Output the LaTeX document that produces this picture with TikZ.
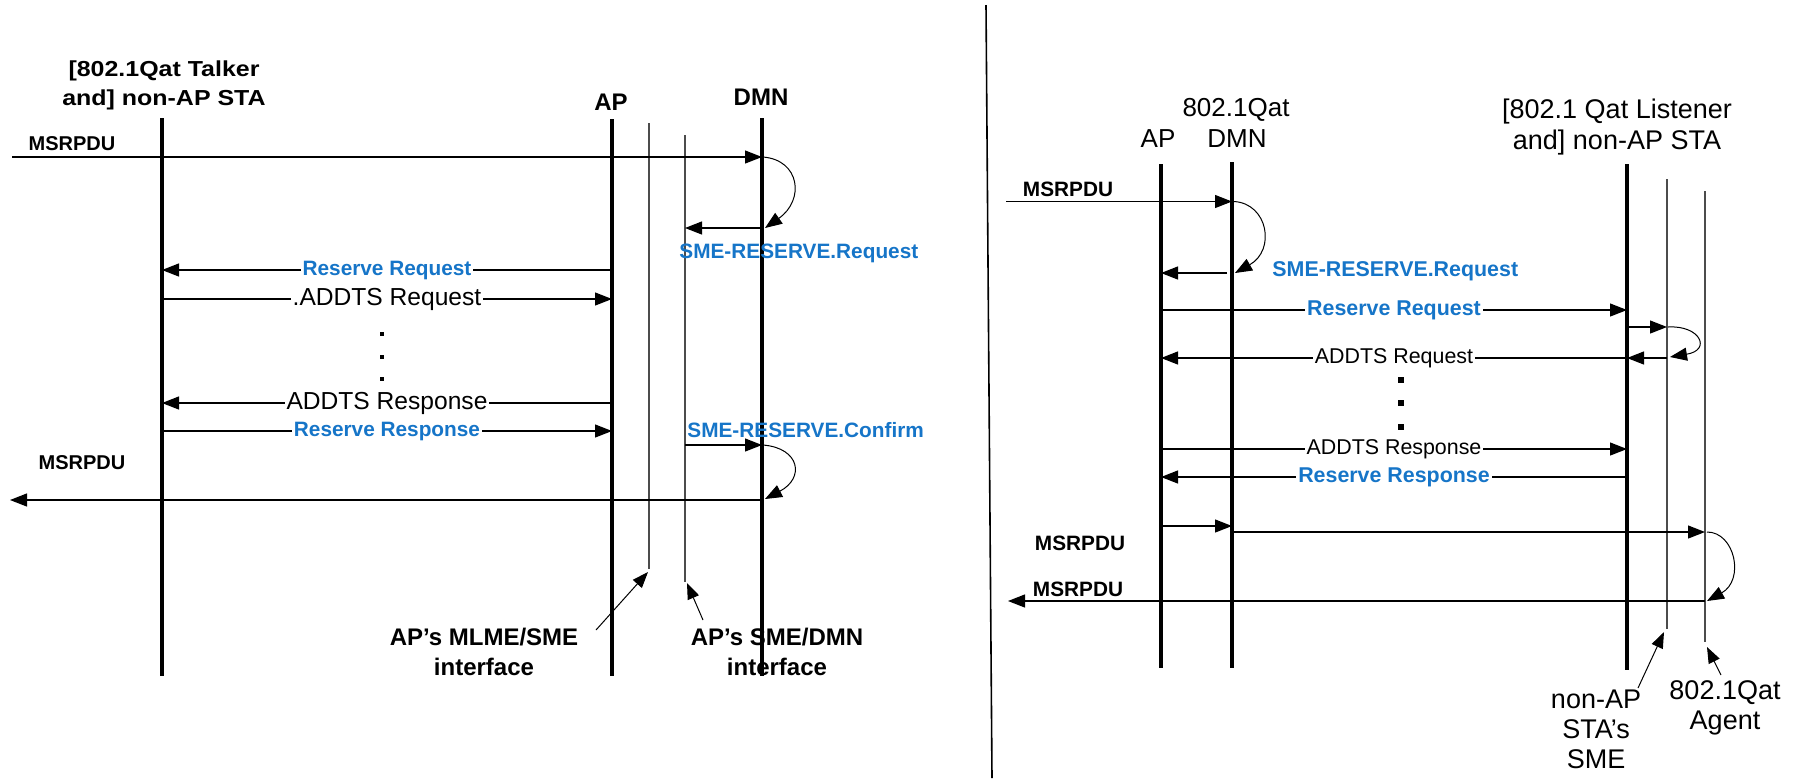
\documentclass[tikz,border=0pt]{standalone}
\usepackage{fontspec}
\setmainfont{Liberation Sans}
\newfontfamily\widesans[FakeStretch=1.15]{Liberation Sans}
\usetikzlibrary{arrows.meta,calc}
\definecolor{lblue}{RGB}{22,117,200}
\begin{document}
\begin{tikzpicture}[x=0.5pt,y=-0.5pt]
\tikzset{
 life/.style={line width=2pt},
 iface/.style={line width=0.65pt, black!70},
 conn/.style={line width=0.6pt},
 msg/.style={conn, -{Triangle[length=8.5pt,width=6.5pt]}},
 ptr/.style={line width=0.5pt, -{Triangle[length=8pt,width=6pt]}},
 curv/.style={line width=0.5pt, -{Triangle[length=8.5pt,width=6.5pt]}},
 tl/.style={font=\widesans\fontsize{10.85}{14.5}\selectfont\bfseries, align=center, inner sep=0pt},
 hb/.style={font=\fontsize{12}{14}\selectfont\bfseries, inner sep=0pt},
 bt/.style={font=\fontsize{12}{15}\selectfont\bfseries, align=center, inner sep=0pt},
 ms/.style={font=\fontsize{10}{12}\selectfont\bfseries, inner sep=0pt},
 bl/.style={font=\fontsize{10.4}{12}\selectfont\bfseries, text=lblue, inner sep=0pt},
 bll/.style={bl, fill=white, inner xsep=1pt, inner ysep=0pt},
 rl/.style={font=\fontsize{12.3}{14}\selectfont, fill=white, inner xsep=1pt, inner ysep=0pt},
 dot/.style={rectangle, fill=black, inner sep=0pt, minimum size=2.4pt},
 rt/.style={font=\fontsize{13.5}{15.5}\selectfont, align=center, inner sep=0pt},
 rh/.style={font=\fontsize{13}{15}\selectfont, inner sep=0pt},
 rms/.style={font=\fontsize{10.4}{12}\selectfont\bfseries, inner sep=0pt},
 rbl/.style={font=\fontsize{10.7}{12}\selectfont\bfseries, text=lblue, inner sep=0pt},
 rbll/.style={rbl, fill=white, inner xsep=1pt, inner ysep=0pt},
 rrl/.style={font=\fontsize{10.7}{12}\selectfont, fill=white, inner xsep=1pt, inner ysep=0pt},
 rdot/.style={rectangle, fill=black, inner sep=0pt, minimum size=2.8pt},
 rbt/.style={font=\fontsize{13.5}{15}\selectfont, align=center, inner sep=0pt},
}
\useasboundingbox (0,0) rectangle (1794,778);

% ================= LEFT DIAGRAM =================
\coordinate (staLt) at (162,118); \coordinate (staLb) at (162,676);
\coordinate (apLt) at (612,119);  \coordinate (apLb) at (612,676);
\coordinate (dmnLt) at (762,118); \coordinate (dmnLb) at (762,676);
\coordinate (if1t) at (649,123);  \coordinate (if1b) at (649,569);
\coordinate (if2t) at (685,135);  \coordinate (if2b) at (685,582);

\draw[life] (staLt) -- (staLb);
\draw[life] (apLt) -- (apLb);
\draw[life] (dmnLt) -- (dmnLb);
\draw[iface] (if1t) -- (if1b);
\draw[iface] (if2t) -- (if2b);

\node[tl] (staLh) at (164,85.5) {[802.1Qat Talker\\and] non-AP STA};
\node[hb] (apLh) at (611,102) {AP};
\node[hb] (dmnLh) at (761,97) {DMN};

% MSRPDU in
\coordinate (inL) at (12,157);
\draw[msg] (inL) -- (dmnLt |- inL);
\node[ms] (msL1) at (72,144) {MSRPDU};
\coordinate (c1s) at (763,157); \coordinate (c1e) at (765,228);
\draw[curv] (c1s) .. controls +(37,3) and +(40,-28) .. (c1e);
% SME-RESERVE.Request
\draw[msg] (dmnLt |- c1e) -- (if2t |- c1e);
\node[bl, anchor=west] (smeReqL) at (679,253) {SME-RESERVE.Request};
% Reserve Request
\coordinate (yL1) at (0,270);
\draw[msg] (apLt |- yL1) -- node[bll] (rrL) {Reserve Request} (staLt |- yL1);
% ADDTS Request
\coordinate (yL2) at (0,299);
\draw[msg] (staLt |- yL2) -- node[rl] (arqL) {.ADDTS Request} (apLt |- yL2);
% dots
\node[dot] (dL1) at (382,334) {};
\node[dot] (dL2) at (382,357) {};
\node[dot] (dL3) at (382,379) {};
% ADDTS Response
\coordinate (yL3) at (0,403);
\draw[msg] (apLt |- yL3) -- node[rl] (arsL) {ADDTS Response} (staLt |- yL3);
% Reserve Response
\coordinate (yL4) at (0,431);
\draw[msg] (staLt |- yL4) -- node[bll] (rsL) {Reserve Response} (apLt |- yL4);
% SME-RESERVE.Confirm
\node[bl, anchor=west] (smeConL) at (687,430) {SME-RESERVE.Confirm};
\coordinate (yL5) at (0,445);
\draw[msg] (if2t |- yL5) -- (dmnLt |- yL5);
\coordinate (c2s) at (763,445); \coordinate (c2e) at (765,499);
\draw[curv] (c2s) .. controls +(37,3) and +(40,-21) .. (c2e);
% MSRPDU out
\coordinate (outL) at (10,500);
\draw[msg] (dmnLt |- outL) -- (outL);
\node[ms] (msL2) at (82,463) {MSRPDU};
% bottom labels
\node[bt] (mlmeLab) at (484,652) {AP’s MLME/SME\\interface};
\node[bt] (smedmnLab) at (777,652) {AP’s SME/DMN\\interface};
\coordinate (p1s) at (596,630);
\draw[ptr] (p1s) -- ($(if1b)+(-1,3)$);
\coordinate (p2s) at (703,620);
\draw[ptr] (p2s) -- ($(if2b)+(2,1)$);

% ================= DIVIDER =================
\coordinate (divT) at (986,5); \coordinate (divB) at (992,778);
\draw[line width=0.8pt] (divT) -- (divB);

% ================= RIGHT DIAGRAM =================
\coordinate (apRt) at (1161,164);  \coordinate (apRb) at (1161,668);
\coordinate (dmnRt) at (1232,162); \coordinate (dmnRb) at (1232,668);
\coordinate (staRt) at (1627,164); \coordinate (staRb) at (1627,670);
\coordinate (smeRt) at (1667,179); \coordinate (smeRb) at (1667,629);
\coordinate (agRt) at (1705,191);  \coordinate (agRb) at (1705,642);

\draw[life] (apRt) -- (apRb);
\draw[life] (dmnRt) -- (dmnRb);
\draw[life] (staRt) -- (staRb);
\draw[iface] (smeRt) -- (smeRb);
\draw[iface] (agRt) -- (agRb);

\node[rt] (staRh) at (1617,127) {[802.1 Qat Listener\\and] non-AP STA};
\node[rh] (qatRh) at (1236,110) {802.1Qat};
\node[rh] (apRh) at (1158,139) {AP};
\node[rh] (dmnRh) at (1237,139) {DMN};

% MSRPDU in
\coordinate (inR) at (1006,201.5);
\draw[msg] (inR) -- (dmnRt |- inR);
\node[rms] (msR1) at (1068,189) {MSRPDU};
\coordinate (c3s) at (1234,201.5); \coordinate (c3e) at (1235,273);
\draw[curv] (c3s) .. controls +(34,2) and +(41,-23) .. (c3e);
% SME-RESERVE.Request
\coordinate (yR1) at (0,273);
\draw[msg] ($(dmnRt |- yR1)+(-5,0)$) -- (apRt |- yR1);
\node[rbl, anchor=west] (smeReqR) at (1272,271) {SME-RESERVE.Request};
% Reserve Request
\coordinate (yR2) at (0,310);
\draw[msg] (apRt |- yR2) -- node[rbll] (rrR) {Reserve Request} (staRt |- yR2);
% STA -> SME
\coordinate (yR3) at (0,327);
\draw[msg] (staRt |- yR3) -- (smeRt |- yR3);
\coordinate (c4s) at (1668,327); \coordinate (c4e) at (1670,357);
\draw[curv] (c4s) .. controls +(32,-2) and +(42,-7) .. (c4e);
% ADDTS Request
\coordinate (yR4) at (0,358);
\draw[msg] (smeRt |- yR4) -- (staRt |- yR4);
\draw[msg] (staRt |- yR4) -- node[rrl] (arqR) {ADDTS Request} (apRt |- yR4);
% dots
\node[rdot] (dR1) at (1401,380) {};
\node[rdot] (dR2) at (1401,403) {};
\node[rdot] (dR3) at (1401,427) {};
% ADDTS Response
\coordinate (yR5) at (0,449);
\draw[msg] (apRt |- yR5) -- node[rrl] (arsR) {ADDTS Response} (staRt |- yR5);
% Reserve Response
\coordinate (yR6) at (0,477);
\draw[msg] (staRt |- yR6) -- node[rbll] (rsR) {Reserve Response} (apRt |- yR6);
% MSRPDU AP -> DMN -> Agent
\coordinate (yR7) at (0,526);
\draw[msg] (apRt |- yR7) -- (dmnRt |- yR7);
\coordinate (yR8) at (0,532);
\draw[msg] (dmnRt |- yR8) -- (agRt |- yR8);
\node[rms] (msR2) at (1080,543) {MSRPDU};
\coordinate (c5s) at (1707,532); \coordinate (c5e) at (1707,601);
\draw[curv] (c5s) .. controls +(28,0) and +(38,-21) .. (c5e);
% MSRPDU out
\coordinate (outR) at (1008,601);
\draw[msg] (agRt |- outR) -- (outR);
\node[rms] (msR3) at (1078,589) {MSRPDU};
% bottom labels
\node[rbt] (smeLab) at (1596,729) {non-AP\\STA’s\\SME};
\node[rbt] (agLab) at (1725,707.5) {802.1Qat\\Agent};
\coordinate (p3s) at (1638,688);
\draw[ptr] (p3s) -- ($(smeRb)+(-3,3)$);
\coordinate (p4s) at (1721,675);
\draw[ptr] (p4s) -- ($(agRb)+(2,5)$);
\end{tikzpicture}
\end{document}
